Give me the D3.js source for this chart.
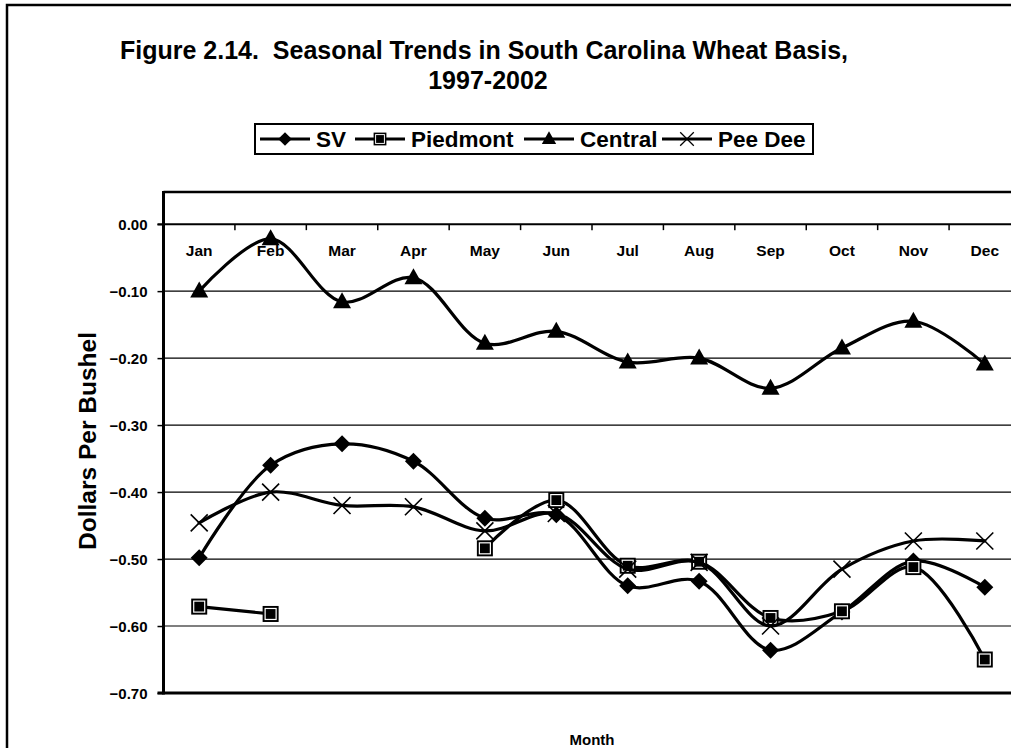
<!DOCTYPE html>
<html>
<head>
<meta charset="utf-8">
<script src="https://cdn.jsdelivr.net/npm/d3@7"></script>
<style>
  html, body { margin: 0; padding: 0; background: #fff; }
  svg { display: block; font-family: "Liberation Sans", Arial, sans-serif; font-weight: bold; }
</style>
</head>
<body>
<svg id="chart" width="1011" height="748"></svg>
<script>
// Monthly wheat basis by region, dollars per bushel
const months = ["Jan","Feb","Mar","Apr","May","Jun","Jul","Aug","Sep","Oct","Nov","Dec"];
const sv       = [-0.498, -0.360, -0.328, -0.354, -0.439, -0.434, -0.540, -0.533, -0.636, -0.579, -0.503, -0.542];
const piedmont = [-0.571, -0.582, null, null, -0.484, -0.412, -0.510, -0.504, -0.588, -0.578, -0.512, -0.650];
const central  = [-0.100, -0.022, -0.116, -0.080, -0.178, -0.160, -0.206, -0.200, -0.245, -0.185, -0.145, -0.209];
const peeDee   = [-0.446, -0.400, -0.420, -0.422, -0.458, -0.432, -0.515, -0.505, -0.600, -0.515, -0.473, -0.473];
const yTicks   = [0, -0.1, -0.2, -0.3, -0.4, -0.5, -0.6, -0.7];

const seriesNames = ["SV", "Piedmont", "Central", "Pee Dee"];
const seriesValues = [sv, piedmont, central, peeDee];
const markerKinds = ["diamond", "square", "triangle", "cross"];

const svg = d3.select("#chart");
svg.append("rect").attr("width", 1011).attr("height", 748).attr("fill", "#fff");

// outer chart frame (runs past the right and bottom edges)
svg.append("rect").attr("x", 7).attr("y", 5).attr("width", 1040).attr("height", 780)
  .attr("fill", "none").attr("stroke", "#000").attr("stroke-width", 2.5);

const plot = { left: 163.5, right: 1020.5, bottom: 693 };
const x = d3.scaleBand().domain(months).range([plot.left, plot.right]);
const y = d3.scaleLinear().domain([-0.7, 0.048]).range([plot.bottom, 192]);
const cx = m => x(m) + x.bandwidth() / 2;

// title
const title = svg.append("text").attr("text-anchor", "middle").attr("font-size", 25)
  .style("white-space", "pre");
title.append("tspan").attr("x", 484).attr("y", 59).text("Figure 2.14.  Seasonal Trends in South Carolina Wheat Basis,");
title.append("tspan").attr("x", 488).attr("y", 89).text("1997-2002");

// gridlines
svg.append("g").selectAll("line").data(yTicks.filter(v => v < 0 && v > -0.7)).join("line")
  .attr("x1", plot.left).attr("x2", plot.right)
  .attr("y1", d => y(d)).attr("y2", d => y(d))
  .attr("stroke", "#000").attr("stroke-width", 1.2);

// value axis
const yAxis = d3.axisLeft(y).tickValues(yTicks).tickSize(6).tickFormat(d3.format(".2f"));
const yg = svg.append("g").attr("transform", `translate(${plot.left},0)`).call(yAxis);
yg.select(".domain").remove();
yg.selectAll(".tick line").attr("stroke", "#000").attr("stroke-width", 1.5);
yg.selectAll(".tick text").attr("x", -16).attr("dy", "0.36em")
  .attr("font-size", 15).attr("font-family", "Liberation Sans, Arial, sans-serif").attr("font-weight", "bold").attr("fill", "#000");

// plot frame: top, left, bottom
svg.append("line").attr("x1", plot.left).attr("x2", plot.right).attr("y1", 192).attr("y2", 192)
  .attr("stroke", "#000").attr("stroke-width", 2.5);
svg.append("line").attr("x1", plot.left).attr("x2", plot.left).attr("y1", 191).attr("y2", plot.bottom + 1.5)
  .attr("stroke", "#000").attr("stroke-width", 3);
svg.append("line").attr("x1", plot.left - 6).attr("x2", plot.right).attr("y1", y(-0.7)).attr("y2", y(-0.7))
  .attr("stroke", "#000").attr("stroke-width", 3);

// category axis crossing at 0.00
const xAxis = d3.axisBottom(x).tickSize(0);
const xg = svg.append("g").attr("transform", `translate(0,${y(0)})`).call(xAxis);
xg.select(".domain").attr("d", `M${plot.left - 6},0H${plot.right}`).attr("stroke", "#000").attr("stroke-width", 2);
xg.selectAll(".tick text").attr("y", 32).attr("dy", 0)
  .attr("font-size", 15.5).attr("font-family", "Liberation Sans, Arial, sans-serif").attr("font-weight", "bold").attr("fill", "#000");
svg.append("g").selectAll("line").data(months.slice(1).concat(["end"])).join("line")
  .attr("x1", d => d === "end" ? plot.right : x(d)).attr("x2", d => d === "end" ? plot.right : x(d))
  .attr("y1", y(0)).attr("y2", y(0) + 6)
  .attr("stroke", "#000").attr("stroke-width", 1.5);

// axis titles
svg.append("text").attr("transform", `translate(96,441) rotate(-90)`)
  .attr("text-anchor", "middle").attr("font-size", 24.5).text("Dollars Per Bushel");
svg.append("text").attr("x", (plot.left + plot.right) / 2).attr("y", 745)
  .attr("text-anchor", "middle").attr("font-size", 15).text("Month");

// marker shapes
function drawMarker(g, kind, px, py, scale = 1) {
  const s = scale;
  if (kind === "diamond") {
    const r = 8.5 * s;
    g.append("path").attr("d", `M${px},${py - r}L${px + r},${py}L${px},${py + r}L${px - r},${py}Z`).attr("fill", "#000");
  } else if (kind === "square") {
    const h = 8 * s;
    g.append("rect").attr("x", px - h).attr("y", py - h).attr("width", 2 * h).attr("height", 2 * h).attr("fill", "#000");
    g.append("rect").attr("x", px - h + 2.5 * s).attr("y", py - h + 2.5 * s)
      .attr("width", 2 * h - 5 * s).attr("height", 2 * h - 5 * s)
      .attr("fill", "#000").attr("stroke", "#fff").attr("stroke-width", 1.2 * s);
  } else if (kind === "triangle") {
    const w = 9 * s, h = 16 * s;
    g.append("path").attr("d", `M${px},${py - h * 0.6}L${px + w},${py + h * 0.4}L${px - w},${py + h * 0.4}Z`).attr("fill", "#000");
  } else {
    const r = 8.5 * s;
    g.append("path").attr("d", `M${px - r},${py - r}L${px + r},${py + r}M${px + r},${py - r}L${px - r},${py + r}`)
      .attr("stroke", "#000").attr("stroke-width", 1.6 * s).attr("fill", "none");
  }
}

// series lines and markers
const line = d3.line()
  .defined(d => d.v !== null)
  .x(d => cx(d.m)).y(d => y(d.v))
  .curve(d3.curveCatmullRom.alpha(0.5));

seriesValues.forEach((vals, i) => {
  const pts = months.map((m, j) => ({ m, v: vals[j] }));
  const g = svg.append("g");
  g.append("path").datum(pts).attr("d", line)
    .attr("fill", "none").attr("stroke", "#000").attr("stroke-width", 3.2)
    .attr("stroke-linejoin", "round").attr("stroke-linecap", "round");
  pts.filter(p => p.v !== null).forEach(p => drawMarker(g, markerKinds[i], cx(p.m), y(p.v)));
});

// legend
const legend = svg.append("g");
const legendTop = 124, legendH = 30;
legend.append("rect").attr("x", 255).attr("y", legendTop).attr("width", 558).attr("height", legendH)
  .attr("fill", "#fff").attr("stroke", "#000").attr("stroke-width", 2);
const legendX = [260, 355, 524, 662];
seriesNames.forEach((name, i) => {
  const lx = legendX[i];
  const ly = legendTop + legendH / 2;
  legend.append("line").attr("x1", lx).attr("x2", lx + 50).attr("y1", ly).attr("y2", ly)
    .attr("stroke", "#000").attr("stroke-width", 3.2);
  drawMarker(legend, markerKinds[i], lx + 25, ly, 0.8);
  legend.append("text").attr("x", lx + 56).attr("y", ly + 8).attr("font-size", 22.5).text(name);
});
</script>
</body>
</html>
